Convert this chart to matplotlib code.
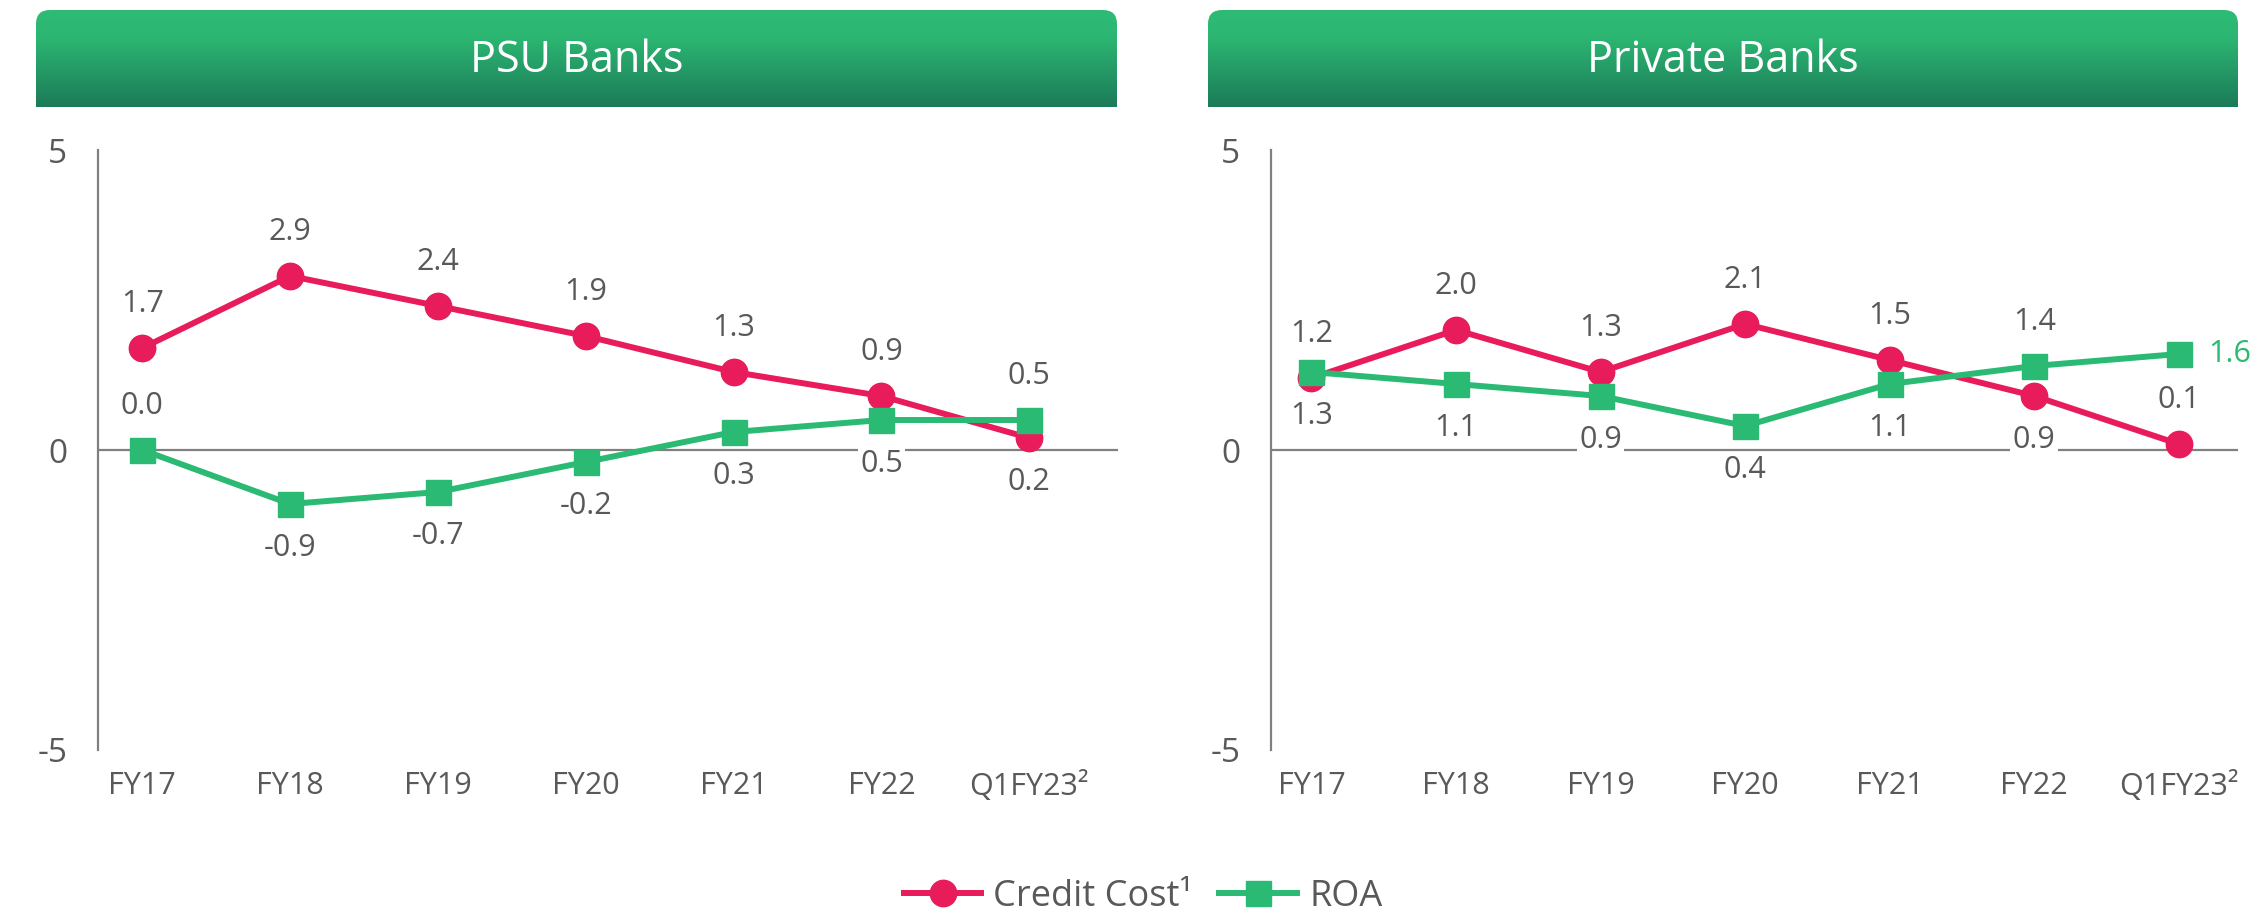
import numpy as np
import matplotlib
matplotlib.use("Agg")
import matplotlib.pyplot as plt
from matplotlib.patches import FancyBboxPatch
from matplotlib.colors import LinearSegmentedColormap

plt.rcParams['font.family'] = ['Open Sans', 'DejaVu Sans']

# ---------------- data ----------------
categories = ["FY17", "FY18", "FY19", "FY20", "FY21", "FY22", "Q1FY23²"]
panel_titles = ["PSU Banks", "Private Banks"]
series_names = ["Credit Cost¹", "ROA"]

psu_credit_cost = [1.7, 2.9, 2.4, 1.9, 1.3, 0.9, 0.2]
psu_roa = [0.0, -0.9, -0.7, -0.2, 0.3, 0.5, 0.5]
pvt_credit_cost = [1.2, 2.0, 1.3, 2.1, 1.5, 0.9, 0.1]
pvt_roa = [1.3, 1.1, 0.9, 0.4, 1.1, 1.4, 1.6]

y_ticks = [-5, 0, 5]

# label placement (layout only)
psu_cc_pos = ['a', 'a', 'a', 'a', 'a', 'a', 'b']
psu_roa_pos = ['a', 'b', 'b', 'b', 'b', 'b', 'a']
pvt_cc_pos = ['a', 'a', 'a', 'a', 'a', 'b', 'a']
pvt_roa_pos = ['b', 'b', 'b', 'b', 'b', 'a', 'r']

# ---------------- style ----------------
RED = "#E81C5A"
GREEN = "#2BBA73"
GRAY_TXT = "#595959"
GRAY_LINE = "#808080"

W, H = 2254, 914
fig = plt.figure(figsize=(W / 100, H / 100), dpi=100)

# header band overlay (pixel coords)
ov = fig.add_axes([0, 0, 1, 1], zorder=0)
ov.set_xlim(0, W)
ov.set_ylim(H, 0)
ov.axis('off')
ov.patch.set_alpha(0)

cmap = LinearSegmentedColormap.from_list("hdr", [(0, "#2EBC75"), (0.3, "#2BB571"),
                                                 (1, "#1C7A58")])
grad = np.linspace(0, 1, 256).reshape(-1, 1)
headers = [(36, 1117, 10, 107), (1208, 2238, 10, 107)]
for (x0, x1, y0, y1), title in zip(headers, panel_titles):
    r = 14
    clip = FancyBboxPatch((x0, y0), x1 - x0, (y1 - y0) + 3 * r,
                          boxstyle=f"round,pad=0,rounding_size={r}",
                          transform=ov.transData, facecolor='none', edgecolor='none')
    ov.add_patch(clip)
    im = ov.imshow(grad, cmap=cmap, extent=(x0, x1, y1, y0), aspect='auto',
                   interpolation='bilinear')
    im.set_clip_path(clip)
    ov.text((x0 + x1) / 2, (y0 + y1) / 2 + 2, title, color='white', fontsize=31,
            ha='center', va='center')

panels = [
    dict(rect=[98 / W, 1 - 750 / H, (1118 - 98) / W, 600 / H], xlim=(-0.3, 6.6),
         cc=psu_credit_cost, roa=psu_roa, ccp=psu_cc_pos, roap=psu_roa_pos),
    dict(rect=[1271 / W, 1 - 750 / H, (2238 - 1271) / W, 600 / H], xlim=(-0.28, 6.41),
         cc=pvt_credit_cost, roa=pvt_roa, ccp=pvt_cc_pos, roap=pvt_roa_pos),
]

OFF = 31.5


def label(ax, x, v, pos, color=GRAY_TXT):
    if pos == 'r':
        ax.annotate(f"{v:.1f}", (x, v), xytext=(21, 0), textcoords='offset points',
                    ha='left', va='center', fontsize=22, color=GREEN, zorder=6)
        return
    dy = OFF if pos == 'a' else -OFF
    ax.annotate(f"{v:.1f}", (x, v), xytext=(0, dy), textcoords='offset points',
                ha='center', va='center', fontsize=22, color=color, zorder=6,
                bbox=dict(boxstyle='square,pad=0.08', facecolor='white', edgecolor='none'))


handles = []
for p in panels:
    ax = fig.add_axes(p['rect'], zorder=2)
    ax.patch.set_alpha(0)
    x = np.arange(len(categories))
    ax.set_xlim(*p['xlim'])
    ax.set_ylim(-5, 5)
    ax.axhline(0, color=GRAY_LINE, lw=1.6, zorder=1)
    l1, = ax.plot(x, p['cc'], color=RED, lw=4.3, marker='o', markersize=19, zorder=3,
                  label=series_names[0])
    l2, = ax.plot(x, p['roa'], color=GREEN, lw=4.3, marker='s', markersize=18, zorder=4,
                  label=series_names[1])
    handles = [l1, l2]
    for i, v in enumerate(p['cc']):
        label(ax, i, v, p['ccp'][i])
    for i, v in enumerate(p['roa']):
        label(ax, i, v, p['roap'][i])
    for s in ['top', 'right', 'bottom']:
        ax.spines[s].set_visible(False)
    ax.spines['left'].set_color(GRAY_LINE)
    ax.spines['left'].set_linewidth(1.6)
    ax.set_xticks(x)
    ax.set_xticklabels(categories)
    ax.set_yticks(y_ticks)
    ax.set_yticklabels([str(t) for t in y_ticks])
    ax.tick_params(axis='x', length=0, pad=15, labelsize=22, labelcolor=GRAY_TXT)
    ax.tick_params(axis='y', length=0, pad=22, labelsize=24, labelcolor=GRAY_TXT)

leg = fig.legend(handles, series_names, loc='center', ncol=2,
                 bbox_to_anchor=(1143 / W, 1 - 897 / H), frameon=False,
                 fontsize=26, labelcolor=GRAY_TXT, handlelength=2.15,
                 handletextpad=0.33, columnspacing=0.75, markerscale=1.0)

fig.savefig("out.png", dpi=100)
